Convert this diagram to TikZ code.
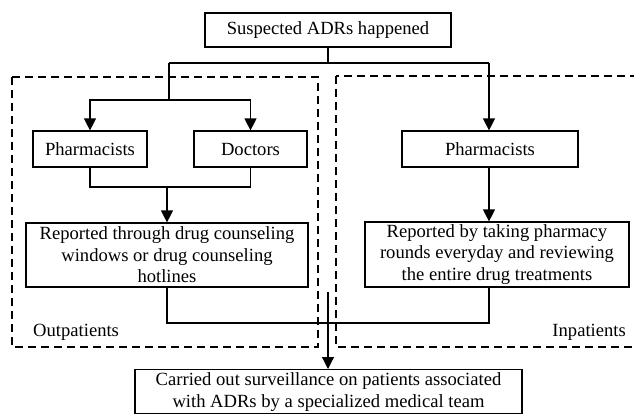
\documentclass[tikz,border=0pt]{standalone}
\usepackage{fontspec}
\setmainfont{Liberation Serif}
\usetikzlibrary{arrows.meta}

\begin{document}
\begin{tikzpicture}[x=1pt,y=-1pt,
      every node/.style={font=\fontsize{18.6}{21.5}\selectfont},
      box/.style={draw,line width=1.2pt,align=center,inner xsep=2pt,inner ysep=1pt},
      area/.style={draw,line width=1.2pt,dash pattern=on 8pt off 5pt},
      line/.style={draw,line width=1.2pt},
      arr/.style={line,-{Triangle[length=12pt,width=12pt]}}]
    \useasboundingbox (0,0) rectangle (634,413);
    \draw[area] (12,77) rectangle (318,347);
    \draw[area] (336,76) rectangle (645,347);
    \node[box,minimum width=246pt,minimum height=34pt] (top) at (328,30) {Suspected ADRs happened};
    \node[box,minimum width=114pt,minimum height=36pt] (lph) at (90,149) {Pharmacists};
    \node[box,minimum width=113pt,minimum height=36pt] (doc) at (250.5,149) {Doctors};
    \node[box,minimum width=176pt,minimum height=36pt] (rph) at (490,149) {Pharmacists};
    \node[box,minimum width=282pt,minimum height=64pt] (lrep) at (167,255)
        {Reported through drug counseling\\windows or drug counseling\\hotlines};
    \node[box,minimum width=264pt,minimum height=65pt] (rrep) at (497,254.5)
        {Reported by taking pharmacy\\rounds everyday and reviewing\\the entire drug treatments};
    \node[box,minimum width=387pt,anchor=north,inner ysep=3pt] (team) at (328.5,369)
        {Carried out surveillance on patients associated\\with ADRs by a specialized medical team};
    \node[anchor=base west,inner sep=0pt] (outp) at (33,336) {Outpatients};
    \node[anchor=base east,inner sep=0pt] (inp) at (626,336) {Inpatients};
    \coordinate (split) at (328,63);
    \coordinate (lsplit) at (169,63);
    \coordinate (rsplit) at (489,63);
    \coordinate (lfork) at (169,100);
    \coordinate (ljoin) at (167,187);
    \coordinate (ljoinend) at (167,323);
    \coordinate (rjoinend) at (489,323);
    \coordinate (start) at (328,292);
    \draw[line] (top.south) -- (split);
    \draw[line] (lsplit) -- (rsplit);
    \draw[line] (lsplit) -- (lfork);
    \draw[arr] (lfork) -| (lph.north);
    \draw[arr] (lfork) -| (doc.north);
    \draw[arr] (rsplit) -- (rsplit |- rph.north);
    \draw[line] (lph.south) |- (ljoin) -| (doc.south);
    \draw[arr] (ljoin) -- (ljoin |- lrep.north);
    \draw[arr] (rsplit |- rph.south) -- (rsplit |- rrep.north);
    \draw[line] (ljoin |- lrep.south) -- (ljoinend) -- (rjoinend) -- (rsplit |- rrep.south);
    \draw[arr] (start) -- (team.north -| start);
\end{tikzpicture}
\end{document}
